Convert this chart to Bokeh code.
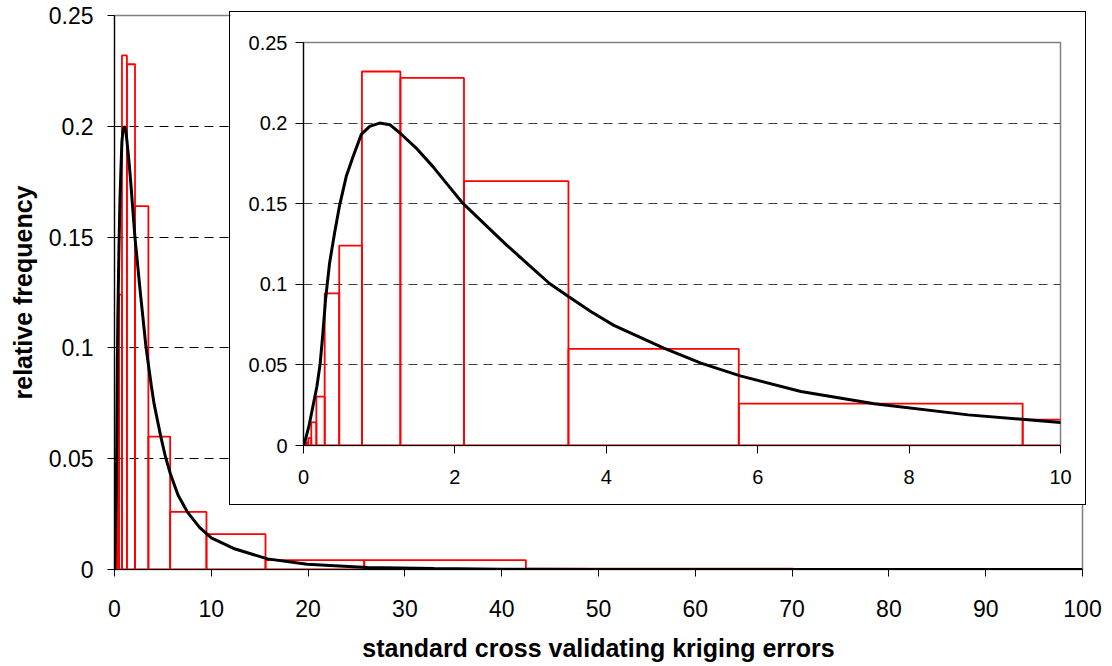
from bokeh.plotting import figure
from bokeh.models import Range1d, FixedTicker
from bokeh.layouts import column
from bokeh.embed import file_html
from bokeh.resources import INLINE

# ---- data ----
bin_edges = [0.038, 0.063, 0.103, 0.170, 0.280, 0.472, 0.772, 1.28, 2.12, 3.50,
             5.75, 9.50, 15.6, 25.8, 42.5, 70.1]
bin_heights = [0.002, 0.0046, 0.0143, 0.0303, 0.0944, 0.124, 0.232, 0.228, 0.164,
               0.060, 0.026, 0.016, 0.0042, 0.0042, 0.0004]

curve_x = [0, 0.013, 0.071, 0.124, 0.177, 0.221, 0.256, 0.291, 0.344, 0.411, 0.477,
           0.565, 0.653, 0.764, 0.874, 1.007, 1.14, 1.27, 1.50, 1.71, 1.90, 2.11,
           2.40, 2.68, 3.00, 3.25, 3.50, 3.80, 4.10, 4.76, 5.25, 5.77, 6.57, 7.54,
           8.78, 10.0, 12.3, 15.8, 19.9, 26.1, 33.0, 40.0, 50.0, 100.0]
curve_y = [0, 0.0015, 0.0118, 0.0242, 0.0366, 0.0511, 0.0697, 0.0904, 0.113, 0.132,
           0.149, 0.167, 0.179, 0.193, 0.198, 0.200, 0.199, 0.194, 0.184, 0.173,
           0.162, 0.150, 0.137, 0.1245, 0.111, 0.1005, 0.0925, 0.083, 0.0745,
           0.0604, 0.0511, 0.0432, 0.0335, 0.0259, 0.019, 0.0143, 0.0095, 0.0048,
           0.0024, 0.0009, 0.0004, 0.0001, 0.0, 0.0]

main_x_ticks = [0, 10, 20, 30, 40, 50, 60, 70, 80, 90, 100]
main_x_labels = ["0", "10", "20", "30", "40", "50", "60", "70", "80", "90", "100"]
y_ticks = [0, 0.05, 0.1, 0.15, 0.2, 0.25]
y_labels = ["0", "0.05", "0.1", "0.15", "0.2", "0.25"]
grid_ticks = [0.05, 0.1, 0.15, 0.2]
inset_x_ticks = [0, 2, 4, 6, 8, 10]
inset_x_labels = ["0", "2", "4", "6", "8", "10"]

x_title = "standard cross validating kriging errors"
y_title = "relative frequency"

FONT = "Liberation Sans"


def style_axes(fig, xt, xl, yt, yl, tick_size, xstand, ystand, tick_len):
    fig.xaxis.ticker = FixedTicker(ticks=xt)
    fig.xaxis.major_label_overrides = dict(zip(xt, xl))
    fig.yaxis.ticker = FixedTicker(ticks=yt)
    fig.yaxis.major_label_overrides = dict(zip(yt, yl))
    for ax in (fig.xaxis[0], fig.yaxis[0]):
        ax.minor_tick_line_color = None
        ax.major_tick_in = 0
        ax.major_tick_out = tick_len
        ax.major_tick_line_color = "black"
        ax.axis_line_color = "black"
        ax.axis_line_width = 1.2
        ax.major_label_text_font = FONT
        ax.major_label_text_font_size = tick_size
        ax.major_label_text_color = "black"
    fig.xaxis.major_label_standoff = xstand
    fig.yaxis.major_label_standoff = ystand
    fig.xgrid.visible = False
    fig.ygrid.ticker = FixedTicker(ticks=grid_ticks)
    fig.ygrid.grid_line_color = "black"
    fig.ygrid.grid_line_dash = "9 6"
    fig.ygrid.grid_line_width = 1
    fig.outline_line_color = "#808080"
    fig.outline_line_width = 1.5
    fig.background_fill_color = "white"
    fig.border_fill_color = "white"
    fig.frame_align = False


def draw(fig):
    fig.quad(left=bin_edges[:-1], right=bin_edges[1:], bottom=0, top=bin_heights,
             fill_color=None, line_color="#ff0000", line_width=1.8)
    fig.line(curve_x, curve_y, line_color="black", line_width=3)


main = figure(width=1112, height=666, x_range=Range1d(0, 100), y_range=Range1d(0, 0.25),
              output_backend="svg", toolbar_location=None,
              min_border_left=114, min_border_right=30, min_border_top=15,
              min_border_bottom=97)
style_axes(main, main_x_ticks, main_x_labels, y_ticks, y_labels, "23px", 23, 14, 7)
main.xaxis.axis_label = x_title
main.yaxis.axis_label = y_title
for ax in (main.xaxis[0], main.yaxis[0]):
    ax.axis_label_text_font = FONT
    ax.axis_label_text_font_size = "25px"
    ax.axis_label_text_font_style = "bold"
    ax.axis_label_text_color = "black"
main.xaxis.axis_label_standoff = 14
main.yaxis.axis_label_standoff = 9
draw(main)

inset = figure(width=857, height=494, x_range=Range1d(0, 10), y_range=Range1d(0, 0.25),
               output_backend="svg", toolbar_location=None,
               min_border_left=73, min_border_right=27, min_border_top=30,
               min_border_bottom=61,
               styles={"border": "1.5px solid black"})
style_axes(inset, inset_x_ticks, inset_x_labels, y_ticks, y_labels, "20px", 16, 8, 8)
inset.ygrid.grid_line_color = "#404040"
draw(inset)
inset.margin = (-655, 0, 0, 229)

p = column(main, inset)
open("out.html", "w").write(file_html(p, INLINE))
